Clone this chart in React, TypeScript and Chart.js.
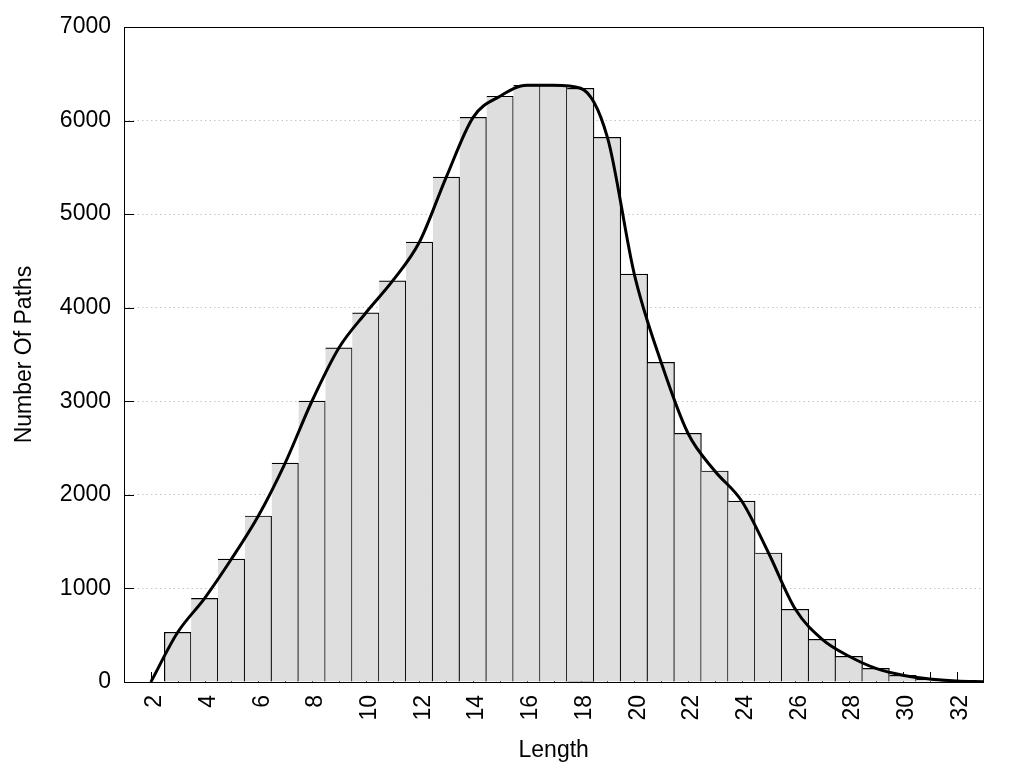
import React, { useEffect, useRef } from 'react';
import { Chart, registerables } from 'chart.js';

Chart.register(...registerables);

// Path length categories (x) and number of paths (y)
const lengths = [2, 3, 4, 5, 6, 7, 8, 9, 10, 11, 12, 13, 14, 15, 16, 17, 18, 19, 20, 21, 22, 23, 24, 25, 26, 27, 28, 29, 30, 31, 32, 33];
const pathCounts = [0, 531, 894, 1314, 1774, 2340, 3003, 3570, 3944, 4286, 4702, 5396, 6035, 6260, 6377, 6377, 6345, 5821, 4360, 3417, 2658, 2255, 1934, 1379, 777, 456, 275, 145, 72, 32, 12, 4];
const firstBarLength = 3;

const xMin = 1;
const xMax = 33;
const yMin = 0;
const yMax = 7000;
const yStep = 1000;

const xTitle = 'Length';
const yTitle = 'Number Of Paths';

const FONT = "'Liberation Sans', Arial, Helvetica, sans-serif";

const framePlugin = {
  id: 'frameTicks',
  beforeDatasetsDraw(chart: any) {
    const { ctx, chartArea, scales } = chart;
    const { left, bottom } = chartArea;
    const x = scales.x;
    const y = scales.y;
    ctx.save();
    ctx.strokeStyle = '#000';
    ctx.lineWidth = 1;
    x.ticks.forEach((t: any) => {
      const px = Math.round(x.getPixelForValue(t.value)) + 0.5;
      ctx.beginPath();
      ctx.moveTo(px, bottom);
      ctx.lineTo(px, bottom - 10);
      ctx.stroke();
    });
    y.ticks.forEach((t: any) => {
      const py = Math.round(y.getPixelForValue(t.value)) + 0.5;
      ctx.beginPath();
      ctx.moveTo(left, py);
      ctx.lineTo(left + 10, py);
      ctx.stroke();
    });
    ctx.restore();
  },
  afterDatasetsDraw(chart: any) {
    const { ctx, chartArea } = chart;
    const { left, right, top, bottom } = chartArea;
    ctx.save();
    ctx.strokeStyle = '#000';
    ctx.lineWidth = 1;
    ctx.strokeRect(Math.round(left) + 0.5, Math.round(top) + 0.5, Math.round(right - left), Math.round(bottom - top));
    ctx.restore();
  },
};

export default function App() {
  const canvasRef = useRef<HTMLCanvasElement | null>(null);

  useEffect(() => {
    if (!canvasRef.current) return;
    Chart.defaults.font.family = FONT;
    Chart.defaults.color = '#000';

    const points = lengths.map((len, i) => ({ x: len, y: pathCounts[i] }));
    const barPoints = points.filter((p) => p.x >= firstBarLength);

    const chart = new Chart(canvasRef.current, {
      type: 'bar',
      data: {
        datasets: [
          {
            type: 'line',
            data: points,
            borderColor: '#000',
            borderWidth: 3,
            pointRadius: 0,
            fill: false,
            cubicInterpolationMode: 'monotone',
            borderJoinStyle: 'round',
            order: 0,
          } as any,
          {
            type: 'bar',
            data: barPoints,
            backgroundColor: '#dedede',
            borderColor: '#000',
            borderSkipped: false,
            borderWidth: (ctx: any) => ({ top: 1.2, right: 1.25, bottom: 0, left: ctx.dataIndex === 0 ? 1.25 : 0 }),
            barPercentage: 1,
            categoryPercentage: 1,
            order: 1,
          } as any,
        ],
      },
      options: {
        responsive: false,
        animation: false,
        devicePixelRatio: 1,
        layout: { padding: { top: 27, right: 40, left: 0, bottom: 0 } },
        plugins: {
          legend: { display: false },
          tooltip: { enabled: false },
        },
        scales: {
          x: {
            type: 'linear',
            min: xMin,
            max: xMax,
            offset: false,
            grid: { display: false, drawTicks: false, offset: false },
            border: { display: false },
            ticks: {
              stepSize: 1,
              autoSkip: false,
              maxRotation: 90,
              minRotation: 90,
              padding: 13,
              labelOffset: 4,
              font: { size: 23 },
              color: '#000',
              callback: (v: any) => (Number(v) % 2 === 0 ? String(v) : ''),
            },
            title: {
              display: true,
              text: xTitle,
              font: { size: 23 },
              color: '#000',
              padding: { top: 0, bottom: 4 },
            },
            afterFit: (scale: any) => {
              scale.height = 86;
            },
          },
          y: {
            type: 'linear',
            min: yMin,
            max: yMax,
            grid: { color: '#c4c4c4', lineWidth: 1, drawTicks: false },
            border: { display: false, dash: [1.5, 3] },
            ticks: {
              stepSize: yStep,
              padding: 13,
              font: { size: 23 },
              color: '#000',
              callback: (v: any) => String(v),
            },
            title: {
              display: true,
              text: yTitle,
              font: { size: 23 },
              color: '#000',
              padding: { top: 11, bottom: 0 },
            },
            afterFit: (scale: any) => {
              scale.width = 124;
            },
          },
        },
      } as any,
      plugins: [framePlugin],
    });

    return () => chart.destroy();
  }, []);

  return (
    <div style={{ position: 'fixed', left: 0, top: 0, width: 1024, height: 768, background: '#fff' }}>
      <canvas ref={canvasRef} width={1024} height={768} style={{ display: 'block' }} />
    </div>
  );
}
